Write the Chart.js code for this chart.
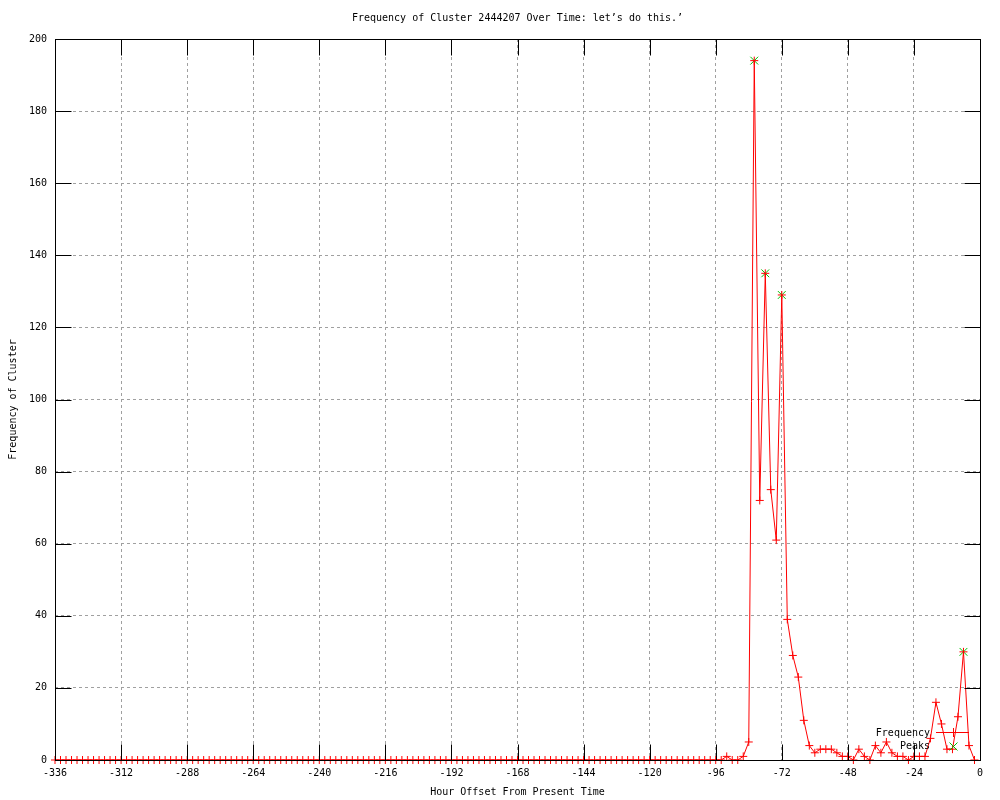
<!DOCTYPE html>
<html>
<head>
<meta charset="utf-8">
<title>Frequency of Cluster 2444207</title>
<script src="https://cdn.jsdelivr.net/npm/chart.js@4"></script>
<style>
  body { margin: 0; background: #fff; }
  canvas { display: block; }
</style>
</head>
<body>
<canvas id="myChart" width="1000" height="800"></canvas>
<script>
// Data
const hours = [
  -336, -334, -332, -330, -328, -326, -324, -322, -320, -318, -316, -314,
  -312, -310, -308, -306, -304, -302, -300, -298, -296, -294, -292, -290,
  -288, -286, -284, -282, -280, -278, -276, -274, -272, -270, -268, -266,
  -264, -262, -260, -258, -256, -254, -252, -250, -248, -246, -244, -242,
  -240, -238, -236, -234, -232, -230, -228, -226, -224, -222, -220, -218,
  -216, -214, -212, -210, -208, -206, -204, -202, -200, -198, -196, -194,
  -192, -190, -188, -186, -184, -182, -180, -178, -176, -174, -172, -170,
  -168, -166, -164, -162, -160, -158, -156, -154, -152, -150, -148, -146,
  -144, -142, -140, -138, -136, -134, -132, -130, -128, -126, -124, -122,
  -120, -118, -116, -114, -112, -110, -108, -106, -104, -102, -100, -98,
  -96, -94, -92, -90, -88, -86, -84, -82, -80, -78, -76, -74,
  -72, -70, -68, -66, -64, -62, -60, -58, -56, -54, -52, -50,
  -48, -46, -44, -42, -40, -38, -36, -34, -32, -30, -28, -26,
  -24, -22, -20, -18, -16, -14, -12, -10, -8, -6, -4, -2
];
const frequency = [
  0, 0, 0, 0, 0, 0, 0, 0, 0, 0, 0, 0,
  0, 0, 0, 0, 0, 0, 0, 0, 0, 0, 0, 0,
  0, 0, 0, 0, 0, 0, 0, 0, 0, 0, 0, 0,
  0, 0, 0, 0, 0, 0, 0, 0, 0, 0, 0, 0,
  0, 0, 0, 0, 0, 0, 0, 0, 0, 0, 0, 0,
  0, 0, 0, 0, 0, 0, 0, 0, 0, 0, 0, 0,
  0, 0, 0, 0, 0, 0, 0, 0, 0, 0, 0, 0,
  0, 0, 0, 0, 0, 0, 0, 0, 0, 0, 0, 0,
  0, 0, 0, 0, 0, 0, 0, 0, 0, 0, 0, 0,
  0, 0, 0, 0, 0, 0, 0, 0, 0, 0, 0, 0,
  0, 0, 1, 0, 0, 1, 5, 194, 72, 135, 75, 61,
  129, 39, 29, 23, 11, 4, 2, 3, 3, 3, 2, 1,
  1, 0, 3, 1, 0, 4, 2, 5, 2, 1, 1, 0,
  1, 1, 1, 6, 16, 10, 3, 3, 12, 30, 4, 0
];
const peakHours = [-82, -78, -72, -6];
const peakValues = [194, 135, 129, 30];

const xTicks = { min: -336, max: 0, step: 24 };
const yTicks = { min: 0, max: 200, step: 20 };

const FONT = "DejaVu Sans Mono";

// Frame, inward tics and the key (gnuplot look)
const gnuFrame = {
  id: "gnuFrame",
  afterDatasetsDraw(chart) {
    const ctx = chart.ctx;
    const a = chart.chartArea;
    const xs = chart.scales.x;
    const ys = chart.scales.y;
    const tic = 16;
    const L = Math.round(a.left) + 0.5, R = Math.round(a.right) + 0.5;
    const T = Math.round(a.top) + 0.5, B = Math.round(a.bottom) + 0.5;
    ctx.save();
    ctx.strokeStyle = "#000";
    ctx.lineWidth = 1;
    ctx.beginPath();
    xs.ticks.forEach(function (t) {
      var px = Math.round(xs.getPixelForValue(t.value)) + 0.5;
      ctx.moveTo(px, B);
      ctx.lineTo(px, B - tic);
      ctx.moveTo(px, T);
      ctx.lineTo(px, T + tic);
    });
    ys.ticks.forEach(function (t) {
      var py = Math.round(ys.getPixelForValue(t.value)) + 0.5;
      ctx.moveTo(L, py);
      ctx.lineTo(L + tic, py);
      ctx.moveTo(R, py);
      ctx.lineTo(R - tic, py);
    });
    ctx.stroke();
    ctx.strokeRect(L, T, R - L, B - T);

    // key
    var tx = 930, sx = 953;
    ctx.font = "10px '" + FONT + "'";
    ctx.fillStyle = "#000";
    ctx.textAlign = "right";
    ctx.textBaseline = "middle";
    ctx.fillText("Frequency", tx, 733);
    ctx.fillText("Peaks", tx, 746);
    ctx.strokeStyle = "#ff0000";
    ctx.beginPath();
    ctx.moveTo(936, 732.5);
    ctx.lineTo(969, 732.5);
    ctx.moveTo(sx + 0.5, 728);
    ctx.lineTo(sx + 0.5, 737);
    ctx.stroke();
    ctx.strokeStyle = "#00c000";
    ctx.beginPath();
    ctx.moveTo(sx - 3.5, 742.5);
    ctx.lineTo(sx + 4.5, 750.5);
    ctx.moveTo(sx + 4.5, 742.5);
    ctx.lineTo(sx - 3.5, 750.5);
    ctx.stroke();
    ctx.restore();
  },
};

var ctx = document.getElementById("myChart").getContext("2d");
var myChart = new Chart(ctx, {
  type: "line",
  data: {
    datasets: [
      {
        label: "Frequency",
        data: hours.map(function (h, i) { return { x: h, y: frequency[i] }; }),
        borderColor: "#ff0000",
        borderWidth: 1,
        pointStyle: "cross",
        pointRadius: 4,
        pointBorderColor: "#ff0000",
        pointBorderWidth: 1,
        tension: 0,
        clip: false,
        order: 0,
      },
      {
        label: "Peaks",
        data: peakHours.map(function (h, i) { return { x: h, y: peakValues[i] }; }),
        showLine: false,
        pointStyle: "crossRot",
        pointRadius: 5.5,
        pointBorderColor: "#00c000",
        pointBorderWidth: 1,
        clip: false,
        order: 1,
      },
    ],
  },
  options: {
    responsive: false,
    animation: false,
    devicePixelRatio: 1,
    layout: { padding: { left: 0, right: 20, top: 0, bottom: 0 } },
    plugins: {
      legend: { display: false },
      tooltip: { enabled: false },
      title: {
        display: true,
        text: "Frequency of Cluster 2444207 Over Time: let\u2019s do this.\u2019",
        fullSize: false,
        color: "#000",
        font: { family: FONT, size: 10, weight: "normal", lineHeight: 1.2 },
        padding: { top: 12, bottom: 15 },
      },
    },
    scales: {
      x: {
        type: "linear",
        min: xTicks.min,
        max: xTicks.max,
        afterFit: function (scale) { scale.height = 40; },
        ticks: {
          stepSize: xTicks.step,
          color: "#000",
          padding: 7,
          maxRotation: 0,
          autoSkip: false,
          font: { family: FONT, size: 10 },
          callback: function (v) { return String(v); },
        },
        grid: { color: "#a0a0a0", lineWidth: 1, drawTicks: false },
        border: { display: false, dash: [3, 3] },
        title: {
          display: true,
          text: "Hour Offset From Present Time",
          color: "#000",
          font: { family: FONT, size: 10, lineHeight: 1.2 },
          padding: { top: 0, bottom: 2 },
        },
      },
      y: {
        min: yTicks.min,
        max: yTicks.max,
        afterFit: function (scale) { scale.width = 55; },
        ticks: {
          stepSize: yTicks.step,
          color: "#000",
          padding: 8,
          font: { family: FONT, size: 10 },
          callback: function (v) { return String(v); },
        },
        grid: { color: "#a0a0a0", lineWidth: 1, drawTicks: false },
        border: { display: false, dash: [3, 3] },
        title: {
          display: true,
          text: "Frequency of Cluster",
          color: "#000",
          font: { family: FONT, size: 10, lineHeight: 1.2 },
          padding: { top: 7, bottom: 0 },
        },
      },
    },
  },
  plugins: [gnuFrame],
});
</script>
</body>
</html>
